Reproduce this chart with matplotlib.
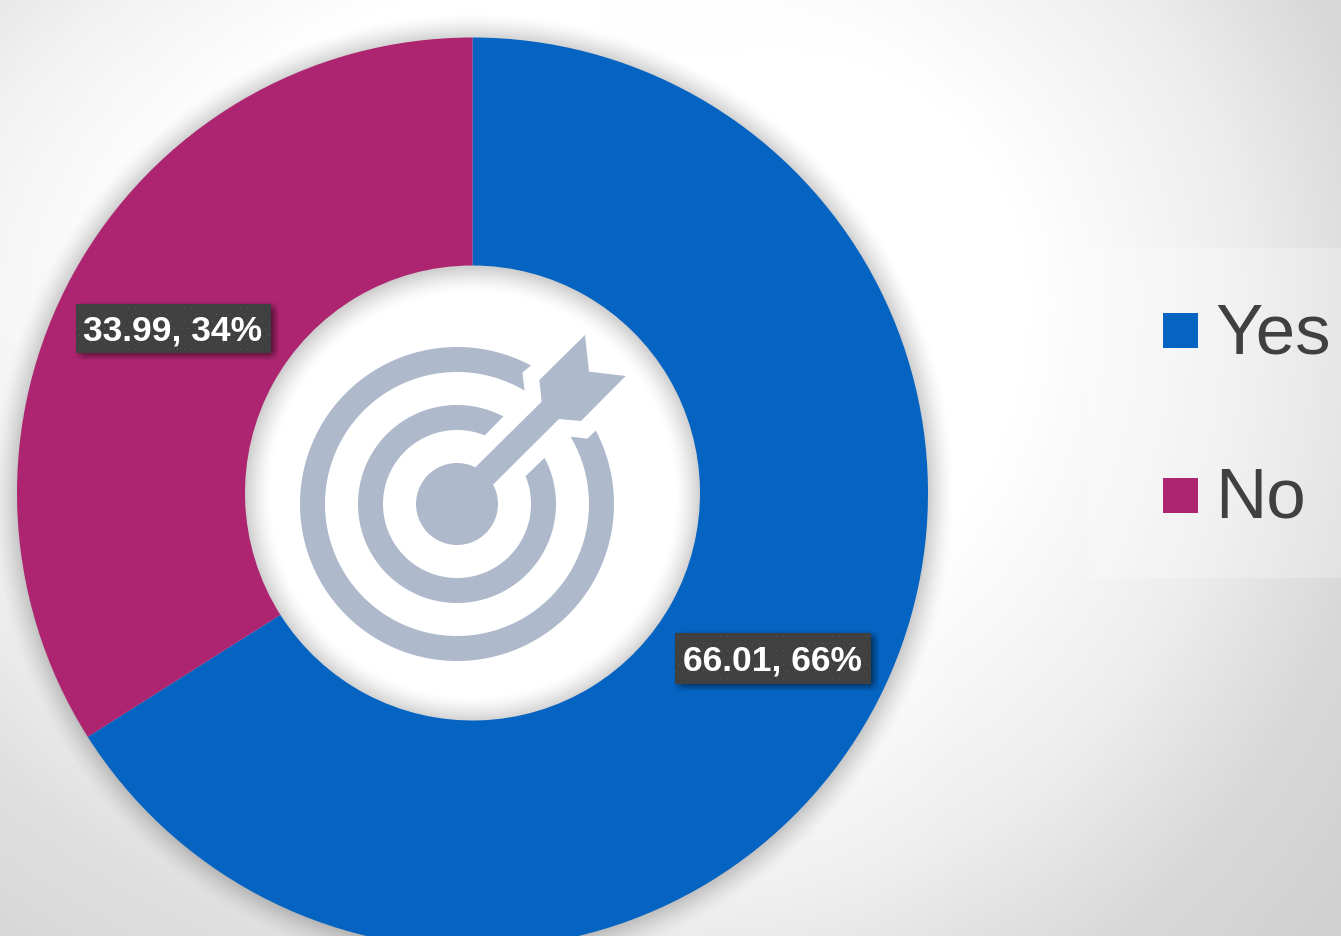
#!/usr/bin/env python

"""
plot.py

Donut chart of yes/no responses with a target icon in the hole
"""

import numpy as np
import matplotlib as mpl
mpl.use('Agg')
import matplotlib.pyplot as plt
from matplotlib.patches import Circle, Polygon, Rectangle

plt.rcParams['font.family'] = ['Liberation Sans', 'DejaVu Sans']

categories = ['Yes', 'No']
values = [66.01, 33.99]
colors = ['#0563C1', '#AD2570']

W, H = 1341, 937
CX, CY, R_OUT, R_IN = 472.5, 493.0, 455.5, 227.5
ICON = '#AEB9CC'

yy, xx = np.mgrid[0:H, 0:W]


def py(y):
    """ pixel row (from the top) to axes y """
    return H - y - 1


def arc(cx, cy, r, a0, a1, n=200):
    t = np.radians(np.linspace(a0, a1, n))
    return np.column_stack((cx + r * np.cos(t), cy + r * np.sin(t)))


def zoomed(pts):
    """ icon outline points are kept at 3x, origin (280, 320) """
    pts = np.array(pts, dtype=float)
    return np.column_stack((pts[:, 0] / 3. + 280, py(pts[:, 1] / 3. + 320)))


def background():
    # grey falls off differently towards the two sides of the slide
    dx = (xx - 780.) * np.where(xx > 780, 1.0, 0.576)
    dy = (yy - 300.) * np.where(yy > 300, 0.8, 1.0)
    d = np.hypot(dx, dy)
    left = np.interp(d, [370, 484, 590, 640, 758], [1, .95, .875, .86, .815])
    right = np.interp(d, [250, 314, 392, 465, 563, 610, 758],
                      [1, .98, .955, .93, .875, .85, .815])
    blend = np.clip((xx - 600.) / 360., 0, 1)
    level = left * (1 - blend) + right * blend
    return np.dstack((level, level, level))


def ring_shadow():
    r = np.hypot(xx - CX, yy - CY - 2)
    dist = np.maximum(r - R_OUT, R_IN - r)
    rgba = np.zeros((H, W, 4))
    rgba[..., 3] = 0.19 * np.clip(1 - dist / 27., 0, 1) ** 1.5
    return rgba


def soft_box(x0, y0, x1, y1, blur, peak):
    """ blurred rectangle as an alpha map """
    ax_ = np.clip((xx - x0 + blur) / (2. * blur), 0, 1) * np.clip((x1 - xx + blur) / (2. * blur), 0, 1)
    ay_ = np.clip((yy - y0 + blur) / (2. * blur), 0, 1) * np.clip((y1 - yy + blur) / (2. * blur), 0, 1)
    rgba = np.zeros((H, W, 4))
    rgba[..., 3] = peak * ax_ * ay_
    return rgba


def label_box(ax, x0, y0, x1, y1, text):
    ax.imshow(soft_box(x0 + 3, y0 + 3, x1 + 3, y1 + 3, 5, 0.55), extent=(0, W, 0, H),
              aspect='auto', zorder=5)
    # dotted dark fill
    h, w = int(y1 - y0), int(x1 - x0)
    ty, tx = np.mgrid[0:h, 0:w]
    dots = ((tx % 7 == 3) & (ty % 14 == 3)) | ((tx % 7 == 0) & (ty % 14 == 10))
    tile = np.where(dots, 0x58 / 255., 0x40 / 255.)
    ax.imshow(np.dstack((tile, tile, tile)), extent=(x0, x1, py(y1), py(y0)),
              aspect='auto', zorder=6, interpolation='bilinear')
    ax.text((x0 + x1) / 2. - 1, py((y0 + y1) / 2. + 1), text, color='white', fontsize=25.5,
            fontweight='bold', ha='center', va='center', zorder=7)


fig = plt.figure(figsize=(W / 100., H / 100.), dpi=100)
ax = fig.add_axes([0, 0, 1, 1])

ax.imshow(background(), extent=(0, W, 0, H), aspect='auto', zorder=0)

# white hole under the ring, then the shadow over both
ax.add_patch(Circle((CX, py(CY)), R_IN + 1, fc='white', ec='none', zorder=1))
ax.imshow(ring_shadow(), extent=(0, W, 0, H), aspect='auto', zorder=2)

wedges, _ = ax.pie(values, colors=colors, startangle=90, counterclock=False,
                   center=(CX, py(CY)), radius=R_OUT,
                   wedgeprops=dict(width=R_OUT - R_IN, linewidth=0))
for w in wedges:
    w.set_zorder(3)

# target icon, both rings open towards the arrow
ix, iy = 457., py(504.)
outer = np.vstack((arc(ix, iy, 157, 61.9, 387.9), zoomed([(922, 356), (873, 350)]),
                   arc(ix, iy, 132, 390.4, 59.2), zoomed([(727, 158)])))
ax.add_patch(Polygon(outer, fc=ICON, ec='none', zorder=4))
middle = np.vstack((arc(ix, iy, 99, 62.1, 387.8), arc(ix, iy, 74, 382.1, 68)))
ax.add_patch(Polygon(middle, fc=ICON, ec='none', zorder=4))
ax.add_patch(Circle((ix, iy), 41, fc=ICON, ec='none', zorder=4))
arrow = [(587, 441), (785, 245), (778, 180), (915, 45), (927, 155), (1037, 168),
         (903, 303), (837, 297), (640, 493), (600, 470)]
ax.add_patch(Polygon(zoomed(arrow), fc=ICON, ec='none', zorder=4))

# data labels
total = sum(values)
labels = ['%.2f, %.0f%%' % (v, 100. * v / total) for v in values]
label_box(ax, 675, 633, 871, 684, labels[0])
label_box(ax, 76, 304, 271, 353, labels[1])

# legend panel
ax.add_patch(Rectangle((1089, py(578)), W - 1089, 330, fc='white', ec='none', alpha=0.25, zorder=3))
for name, col, top, base in zip(categories, colors, (313, 478), (352.7, 516.7)):
    ax.add_patch(Rectangle((1163, py(top + 35)), 35, 35, fc=col, ec='none', zorder=5))
    ax.text(1215, py(base), name, color='#404040', fontsize=51, ha='left', va='baseline', zorder=5)

ax.set_xlim(0, W)
ax.set_ylim(0, H)
ax.set_axis_off()

plt.savefig('out.png', dpi=100)
plt.close()
